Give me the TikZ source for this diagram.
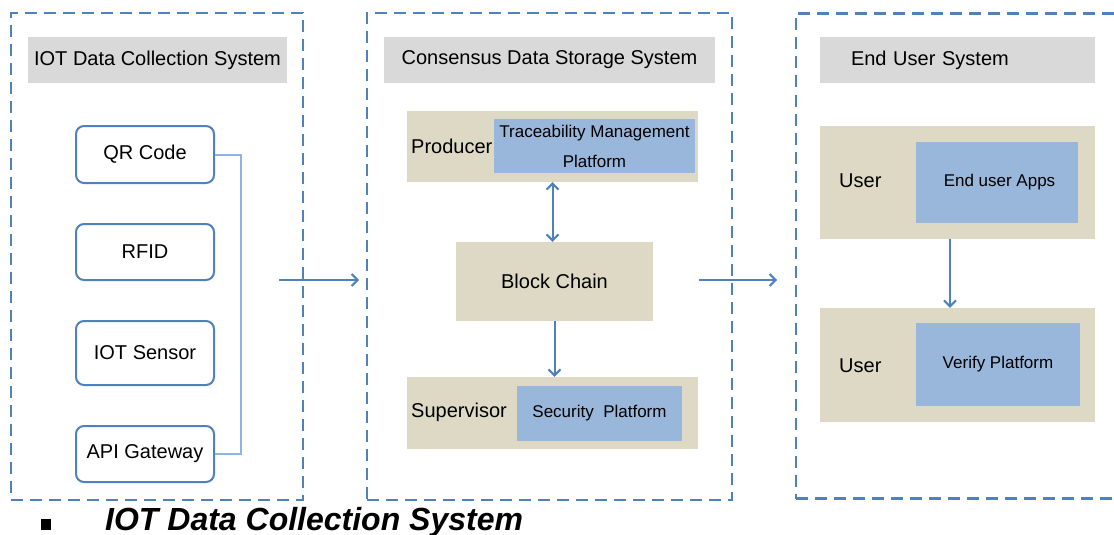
\documentclass[tikz,border=0pt]{standalone}
\usepackage{fontspec}
\setmainfont{Liberation Sans}
\usetikzlibrary{positioning}
\usetikzlibrary{arrows.meta}
\definecolor{framecol}{RGB}{79,129,189}
\definecolor{titlegray}{RGB}{217,217,217}
\definecolor{tanbg}{RGB}{221,217,196}
\definecolor{paleblue}{RGB}{153,182,219}
\definecolor{linkblue}{RGB}{141,180,226}

\begin{document}
\begin{tikzpicture}[x=1pt,y=-1pt,
	frame/.style={draw=framecol, line width=2.5pt, dash pattern=on 12pt off 7pt, inner sep=0pt, outer sep=0pt},
	titlebar/.style={fill=titlegray, inner sep=0pt, minimum height=46pt, font=\fontsize{20}{24}\selectfont},
	device/.style={draw=framecol, line width=2pt, rounded corners=8pt, fill=white, minimum width=138pt, font=\fontsize{20}{24}\selectfont},
	tan/.style={fill=tanbg, inner sep=0pt},
	platform/.style={fill=paleblue, inner sep=0pt, font=\fontsize{17}{30}\selectfont, align=center},
	role/.style={anchor=west, inner sep=0pt, font=\fontsize{20}{24}\selectfont},
	flow/.style={draw=framecol, line width=2pt, -{Straight Barb[length=6pt,width=12pt]}},
	link/.style={draw=linkblue, line width=2pt}]
	
	\useasboundingbox (0,0) rectangle (1114,535);
	
	% three systems
	\node [frame, minimum width=292pt, minimum height=487pt] at (157,256.5) (frameA) {};
	\node [frame, minimum width=365pt, minimum height=487pt] at (549.5,256.5) (frameB) {};
	\node [frame, minimum width=344pt, minimum height=485pt] at (968,256) (frameC) {};
	\node [titlebar, minimum width=259pt] at (157.5,60) (title1) {IOT Data Collection System};
	\node [titlebar, minimum width=331pt] at (549.5,60) (title2) {Consensus Data Storage System};
	\node [titlebar, minimum width=275pt, text width=213pt, inner xsep=31pt, align=left] at (957.5,60) (title3) {End User System};
	
	% IOT devices
	\node [device, minimum height=57pt] at (145,154.5) (qr) {QR Code};
	\node [device, minimum height=56pt] at (145,252) (rfid) {RFID};
	\node [device, minimum height=64pt] at (145,353) (sensor) {IOT Sensor};
	\node [device, minimum height=56pt] at (145,454) (api) {API Gateway};
	\draw [link] (qr.east) -- ++(26,0) |- (api.east);
	
	% storage
	\node [tan, minimum width=291pt, minimum height=71pt] at (552.5,146.5) (prodbg) {};
	\node [role] at (411,146) (prodlbl) {Producer};
	\node [platform, minimum width=201pt, minimum height=54pt] at (594.5,146) (tracepf) {Traceability Management\\Platform};
	\node [tan, minimum width=197pt, minimum height=79pt, font=\fontsize{20}{24}\selectfont] at (554.5,281.5) (chain) {Block Chain};
	\node [tan, minimum width=291pt, minimum height=72pt] at (552.5,413) (supbg) {};
	\node [role] at (411,412) (suplbl) {Supervisor};
	\node [platform, minimum width=165pt, minimum height=55pt] at (599.5,413.5) (secpf) {Security\ \ Platform};
	\draw [flow, {Straight Barb[length=6pt,width=12pt]}-{Straight Barb[length=6pt,width=12pt]}] (prodbg.south) -- (prodbg.south |- chain.north);
	\draw [flow] (chain.south) -- (chain.south |- supbg.north);
	
	% end users
	\node [tan, minimum width=275pt, minimum height=113pt] at (957.5,182.5) (user1bg) {};
	\node [role] at (839,181) (user1lbl) {User};
	\node [platform, minimum width=162pt, minimum height=81pt] at (997,182.5) (appspf) {\hspace{5pt}End user Apps};
	\node [tan, minimum width=275pt, minimum height=114pt] at (957.5,365) (user2bg) {};
	\node [role] at (839,366) (user2lbl) {User};
	\node [platform, minimum width=164pt, minimum height=83pt] at (998,364.5) (verifypf) {Verify Platform};
	\draw [flow] ([xshift=-7.5pt]user1bg.south) -- ([xshift=-7.5pt]user2bg.north);
	
	% between systems
	\coordinate (a1s) at (279,280); \coordinate (a1e) at (359,280);
	\coordinate (a2s) at (699,280); \coordinate (a2e) at (777,280);
	\draw [flow] (a1s) -- (a1e);
	\draw [flow] (a2s) -- (a2e);
	
	% caption
	\node [fill=black, minimum width=10pt, minimum height=11pt, inner sep=0pt] at (46,524.5) (bullet) {};
	\node [anchor=base west, inner sep=0pt, font=\fontsize{32}{36}\selectfont\bfseries\itshape] at (105,530) (caption) {IOT Data Collection System};
\end{tikzpicture}
\end{document}
